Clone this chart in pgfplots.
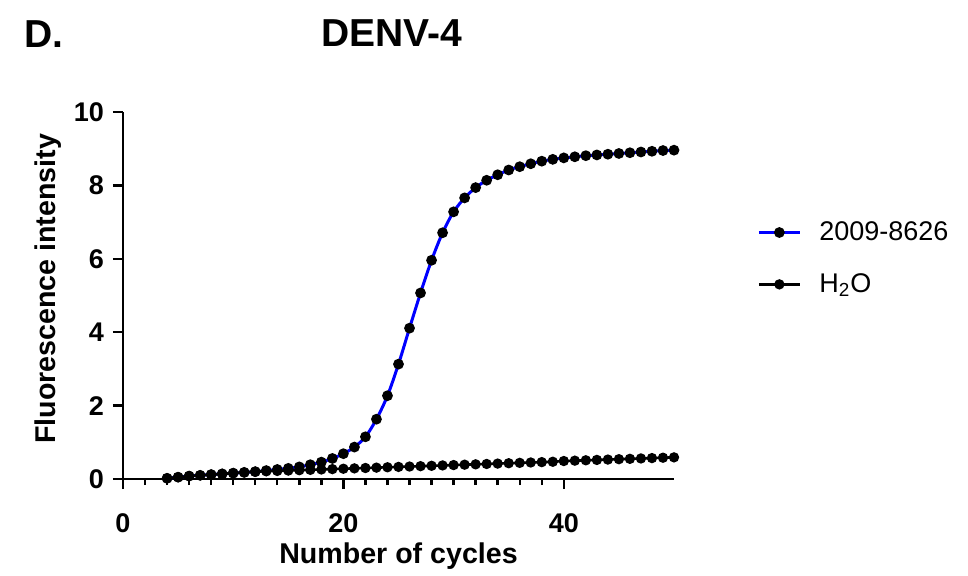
\documentclass[border=0pt]{standalone}
\usepackage{fontspec}
\setmainfont{Liberation Sans}
\usepackage{pgfplots}
\pgfplotsset{compat=1.18}
\begin{document}
\begin{tikzpicture}
\useasboundingbox (0,0) rectangle (484pt,287.5pt);
\begin{axis}[
  at={(61.5pt,48pt)}, anchor=south west,
  scale only axis, width=275.5pt, height=183.5pt,
  xmin=0, xmax=50, ymin=0, ymax=10,
  axis lines=left, axis line style={-, line width=1.4pt},
  every tick/.style={line width=1.2pt, black},
  tick align=outside,
  major tick length=5pt, minor tick length=3pt,
  xtick={0,20,40}, minor x tick num=9,
  ytick={0,2,4,6,8,10},
  clip=false,
  /pgf/number format/assume math mode=true,
  tick label style={font=\fontsize{13.5}{16}\selectfont\bfseries},
  xticklabel style={anchor=base, yshift=-21.5pt},
  yticklabel style={anchor=east, xshift=-1pt},
  xlabel={Number of cycles},
  ylabel={Fluorescence intensity},
  label style={font=\fontsize{14.3}{17}\selectfont\bfseries},
  xlabel style={at={(axis description cs:0.5,-0.2289)}, anchor=base},
  ylabel style={at={(axis description cs:-0.1216,0.518)}, anchor=base},
  title={DENV-4},
  every axis title shift=0pt,
  title style={at={(axis description cs:0.488,1.178)}, anchor=base, font=\fontsize{19.5}{23}\selectfont\bfseries},
  legend cell align=left,
  legend style={at={(axis description cs:1.1506,0.601)}, anchor=west, draw=none, fill=none,
    font=\fontsize{13.5}{16}\selectfont, row sep=11pt, inner sep=0pt,
    /tikz/every odd column/.append style={column sep=7pt}},
  legend image code/.code={\draw[mark repeat=2,mark phase=2,#1] plot coordinates {(0cm,0cm) (0.36cm,0cm) (0.72cm,0cm)};},
]
\addplot[blue, line width=1.5pt, smooth, mark=*, mark size=1.9pt, mark options={fill=black, draw=black, solid}] coordinates {
(4,0.02)(5,0.05)(6,0.08)(7,0.10)(8,0.12)(9,0.14)(10,0.16)(11,0.18)(12,0.20)(13,0.23)
(14,0.26)(15,0.29)(16,0.33)(17,0.39)(18,0.46)(19,0.56)(20,0.69)(21,0.87)(22,1.15)(23,1.63)
(24,2.27)(25,3.13)(26,4.11)(27,5.07)(28,5.96)(29,6.71)(30,7.28)(31,7.66)(32,7.94)(33,8.14)
(34,8.29)(35,8.42)(36,8.51)(37,8.59)(38,8.66)(39,8.71)(40,8.75)(41,8.78)(42,8.81)(43,8.83)
(44,8.85)(45,8.87)(46,8.89)(47,8.91)(48,8.93)(49,8.95)(50,8.96)
};
\addlegendentry{2009-8626}
\addplot[black, line width=1.3pt, smooth, mark=*, mark size=1.9pt, mark options={fill=black, draw=black, solid}] coordinates {
(4,0.02)(5,0.05)(6,0.08)(7,0.10)(8,0.12)(9,0.14)(10,0.16)(11,0.18)(12,0.20)(13,0.21)
(14,0.22)(15,0.23)(16,0.24)(17,0.25)(18,0.26)(19,0.27)(20,0.28)(21,0.29)(22,0.30)(23,0.31)
(24,0.32)(25,0.33)(26,0.34)(27,0.35)(28,0.36)(29,0.37)(30,0.38)(31,0.39)(32,0.40)(33,0.41)
(34,0.42)(35,0.43)(36,0.44)(37,0.45)(38,0.46)(39,0.47)(40,0.49)(41,0.50)(42,0.51)(43,0.52)
(44,0.53)(45,0.54)(46,0.55)(47,0.56)(48,0.57)(49,0.58)(50,0.59)
};
\addlegendentry{H\textsubscript{2}O}
\end{axis}
\node[anchor=base west, font=\fontsize{19.5}{23}\selectfont\bfseries] at (8.5pt,264pt) {D.};
\end{tikzpicture}
\end{document}
